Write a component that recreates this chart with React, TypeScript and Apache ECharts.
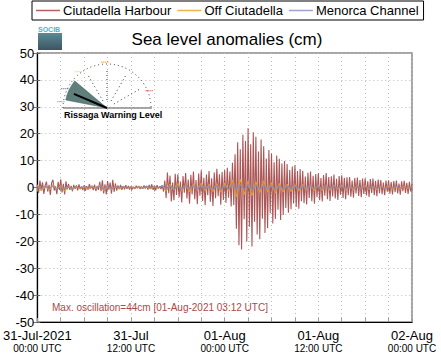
import React, { useEffect, useRef } from "react";
import * as echarts from "echarts";

// Hours since 31-Jul-2021 00:00 UTC
const seriesNames = ["Ciutadella Harbour", "Off Ciutadella", "Menorca Channel"];
const xTickLabels = ["31-Jul-2021", "31-Jul", "01-Aug", "01-Aug", "02-Aug"];
const xTickSub = ["00:00 UTC", "12:00 UTC", "00:00 UTC", "12:00 UTC", "00:00 UTC"];
const yTicks = [-50, -40, -30, -20, -10, 0, 10, 20, 30, 40, 50];

// Ciutadella Harbour, one value every 10 minutes (cm)
const harbourStepH = 1 / 6;
const harbour = [
  1.2, -2.0, 2.6, -0.8, 1.9, -2.4, 0.6, 2.2, -1.5, 1.0, -2.8, 1.7,
  2.9, -1.1, 0.4, -2.5, 2.1, -0.9, 3.0, -1.8, 1.4, -2.6, 2.3, -0.7,
  1.3, -0.9, 0.6, -1.4, 1.0, -0.5, 0.8, -1.1, 1.2, -0.6, 0.4, -1.0,
  0.9, -1.2, 0.5, -0.8, 1.3, -0.4, 0.7, -1.0, 1.1, -1.3, 0.6, -0.9,
  2.1, -1.4, 2.7, -2.2, 1.2, -2.6, 2.4, -0.8, 1.8, -2.3, 2.9, -1.6,
  1.5, -1.2, 0.8, -0.6, 1.0, -0.9, 0.5, -0.7, 0.9, -0.4, 0.6, -0.8,
  0.5, -0.7, 0.3, -0.5, 0.7, -0.3, 0.6, -0.6, 0.4, -0.5, 0.8, -0.4,
  0.6, -0.8, 1.0, -0.5, 1.2, -0.9, 0.7, -1.1, 0.9, -0.4, 0.5, -0.6,
  0.8, -1.5, 2.6, -3.9, 5.6, -2.1, 4.4, -5.2, 1.8, -4.7, 5.1, -2.8,
  4.9, -3.6, 2.2, -5.6, 4.3, -1.9, 5.4, -4.1, 3.0, -6.0, 4.7, -2.6,
  5.9, -4.4, 2.8, -6.2, 5.2, -3.1, 6.4, -5.0, 3.6, -6.6, 4.8, -2.9,
  6.1, -5.3, 3.4, -6.9, 5.6, -4.0, 7.0, -3.2, 4.9, -6.4, 5.8, -4.6,
  6.5, -5.7, 7.3, -3.8, 5.9, -7.1, 9.2, -6.5, 12.4, -15.3, 16.8, -21.5,
  14.2, -23.0, 19.6, -11.8, 17.3, -20.1, 22.0, -14.6, 16.1, -21.9, 20.5, -12.7,
  18.9, -17.5, 13.4, -19.2, 17.8, -11.6, 15.3, -16.9, 10.8, -15.1, 13.9, -9.6,
  12.6, -13.4, 9.4, -11.7, 11.9, -8.3, 10.7, -12.1, 8.9, -10.2, 9.8, -7.6,
  8.7, -9.4, 6.5, -8.1, 7.8, -5.9, 8.3, -7.2, 6.1, -7.9, 6.9, -5.1,
  6.2, -5.8, 4.1, -6.3, 5.5, -3.9, 5.9, -5.1, 4.4, -6.0, 5.0, -3.6,
  5.3, -4.7, 3.5, -5.2, 4.6, -3.1, 5.4, -4.4, 3.9, -5.0, 4.2, -3.3,
  4.8, -4.1, 3.2, -4.6, 4.3, -2.7, 4.5, -3.9, 3.6, -4.4, 3.8, -2.9,
  3.9, -3.4, 2.6, -3.8, 3.5, -2.2, 3.7, -3.1, 2.8, -3.6, 3.3, -2.4,
  3.4, -3.0, 2.3, -3.5, 3.1, -2.0, 3.3, -2.9, 2.5, -3.2, 3.0, -2.1,
  2.8, -2.5, 1.8, -2.9, 2.6, -1.6, 2.7, -2.3, 2.0, -2.6, 2.4, -1.7,
  2.6, -2.2, 1.5, -2.7, 2.3, -1.4, 2.5, -2.0, 1.7, -2.4, 2.1, -1.5,
  1.2,
];

// Off Ciutadella, one value every 30 minutes (cm)
const offStepH = 0.5;
const offCiutadella = [
  0.8, -1.2, 0.5, -0.9, 1.1, -0.6, 0.7, -1.3,
  0.3, -0.6, 0.4, -0.5, 0.2, -0.7, 0.5, -0.4,
  0.9, -1.1, 0.6, -0.8, 0.4, -0.5, 0.3, -0.4,
  0.2, -0.3, 0.4, -0.2, 0.3, -0.5, 0.4, -0.3,
  0.8, -1.4, 1.2, -0.9, 1.5, -1.1, 0.9, -1.6,
  1.3, -1.0, 1.7, -1.2, 1.1, -1.5, 1.4, -1.8,
  1.6, -1.3, 2.8, -3.5, 3.1, -2.6, 2.4, -3.0,
  2.2, -1.9, 2.5, -1.6, 1.8, -2.1, 1.5, -1.7,
  1.2, -1.5, 1.0, -1.3, 1.1, -0.9, 0.8, -1.2,
  0.9, -1.1, 0.7, -1.0, 0.8, -0.6, 0.9, -1.0,
  0.6, -0.9, 0.7, -0.5, 0.8, -0.7, 0.5, -0.8,
  0.6, -0.5, 0.7, -0.6, 0.4, -0.7, 0.5, -0.4,
  0.3,
];

// Menorca Channel, one value every 30 minutes (cm)
const channelStepH = 0.5;
const menorcaChannel = [
  0.4, -0.5, 0.6, -0.3, 0.5, -0.6, 0.3, -0.4,
  0.2, -0.4, 0.3, -0.3, 0.4, -0.2, 0.3, -0.3,
  0.5, -0.4, 0.6, -0.5, 0.3, -0.2, 0.4, -0.3,
  0.3, -0.2, 0.2, -0.3, 0.4, -0.2, 0.3, -0.2,
  0.6, -0.5, 0.7, -0.8, 0.5, -0.6, 0.8, -0.5,
  0.7, -0.6, 0.9, -0.7, 0.6, -0.8, 0.7, -0.9,
  0.8, -0.7, 1.2, -1.0, 1.1, -0.9, 1.3, -1.1,
  0.9, -0.8, 1.0, -0.7, 0.8, -0.9, 0.7, -0.6,
  0.6, -0.5, 0.7, -0.6, 0.5, -0.4, 0.6, -0.5,
  0.5, -0.4, 0.4, -0.5, 0.6, -0.3, 0.4, -0.5,
  0.4, -0.3, 0.5, -0.4, 0.3, -0.4, 0.4, -0.3,
  0.3, -0.4, 0.3, -0.2, 0.4, -0.3, 0.2, -0.3,
  0.2,
];

const FONT = "Liberation Sans, Arial, Helvetica, sans-serif";

function toPairs(values: number[], step: number) {
  return values.map((v, i) => [i * step, v]);
}

export default function App() {
  const ref = useRef<HTMLDivElement>(null);

  useEffect(() => {
    if (!ref.current) return;
    const chart = echarts.init(ref.current, undefined, { renderer: "svg" });
    const deg = Math.PI / 180;
    const gcx = 107;
    const gcy = 108;
    const radial = [30, 60, 90, 120, 150].map((a) => ({
      type: "line",
      shape: {
        x1: gcx + 8 * Math.cos(a * deg),
        y1: gcy - 8 * Math.sin(a * deg),
        x2: gcx + 40 * Math.cos(a * deg),
        y2: gcy - 40 * Math.sin(a * deg),
      },
      style: { stroke: "#333", lineWidth: 1, lineDash: [1, 3] },
      silent: true,
    }));
    const marks = [
      { a: 172, c: "#9aa04a" },
      { a: 155, c: "#5f7f7d" },
      { a: 128, c: "#e8d020" },
      { a: 92, c: "#f08a10" },
      { a: 22, c: "#e02020" },
    ].map((m) => ({
      type: "line",
      shape: {
        x1: gcx + 46 * Math.cos(m.a * deg) - 4,
        y1: gcy - 46 * Math.sin(m.a * deg),
        x2: gcx + 46 * Math.cos(m.a * deg) + 4,
        y2: gcy - 46 * Math.sin(m.a * deg),
      },
      style: { stroke: m.c, lineWidth: 1.2, lineDash: [1, 1] },
      silent: true,
    }));

    chart.setOption({
      animation: false,
      backgroundColor: "#fff",
      textStyle: { fontFamily: FONT },
      title: {
        text: "Sea level anomalies (cm)",
        left: 222,
        textAlign: "center",
        top: 26,
        textStyle: { fontSize: 17, fontWeight: "normal", color: "#000", fontFamily: FONT },
      },
      legend: {
        left: 32,
        top: 1,
        icon: "rect",
        itemWidth: 24,
        itemHeight: 1.5,
        itemGap: 6,
        padding: [3, 5, 3, 4],
        borderColor: "#000",
        borderWidth: 1,
        backgroundColor: "#fff",
        data: seriesNames,
        textStyle: { fontSize: 13, color: "#000", fontFamily: FONT, padding: [0, 0, 0, -2] },
      },
      grid: {
        left: 34,
        right: 29,
        top: 53,
        bottom: 37,
        show: true,
        borderColor: "#888",
        borderWidth: 1.5,
        backgroundColor: "transparent",
      },
      xAxis: [
        {
          type: "value",
          min: 0,
          max: 48,
          interval: 3,
          axisLine: { show: true, onZero: false, lineStyle: { color: "#000", width: 1.2 } },
          axisTick: { show: true, inside: true, length: 4, lineStyle: { color: "#999" } },
          splitLine: { show: true, lineStyle: { color: "#bbb", type: [1, 3], width: 1 } },
          axisLabel: {
            show: true,
            margin: 7,
            showMinLabel: true,
            showMaxLabel: true,
            hideOverlap: false,
            formatter: (v: number) => {
              if (v % 12 !== 0) return "";
              const i = v / 12;
              return `{a|${xTickLabels[i]}}\n{b|${xTickSub[i]}}`;
            },
            rich: {
              a: { fontSize: 13, color: "#000", fontFamily: FONT, lineHeight: 13 },
              b: { fontSize: 10, color: "#000", fontFamily: FONT, lineHeight: 12 },
            },
          },
        },
        {
          type: "value",
          position: "top",
          min: 0,
          max: 48,
          interval: 3,
          axisLine: { show: false },
          axisTick: { show: true, inside: true, length: 4, lineStyle: { color: "#999" } },
          splitLine: { show: false },
          axisLabel: { show: false },
        },
      ],
      yAxis: [
        {
          type: "value",
          min: yTicks[0],
          max: yTicks[yTicks.length - 1],
          interval: 10,
          axisLine: { show: true, onZero: false, lineStyle: { color: "#000", width: 1.2 } },
          axisTick: { show: true, inside: true, length: 3, lineStyle: { color: "#666" } },
          splitLine: { show: true, lineStyle: { color: "#bbb", type: [1, 3], width: 1 } },
          axisLabel: { fontSize: 13, lineHeight: 11, color: "#000", margin: 3, fontFamily: FONT },
        },
        {
          type: "value",
          position: "right",
          min: yTicks[0],
          max: yTicks[yTicks.length - 1],
          interval: 10,
          axisLine: { show: false },
          axisTick: { show: true, inside: true, length: 4, lineStyle: { color: "#777" } },
          splitLine: { show: false },
          axisLabel: { show: false },
        },
      ],
      series: [
        {
          name: seriesNames[0],
          type: "line",
          data: toPairs(harbour, harbourStepH),
          showSymbol: false,
          color: "#b56060",
          lineStyle: { color: "#9e3a3a", width: 1.1, opacity: 0.85 },
          z: 2,
        },
        {
          name: seriesNames[1],
          type: "line",
          data: toPairs(offCiutadella, offStepH),
          showSymbol: false,
          color: "#f0b050",
          lineStyle: { color: "#e59a25", width: 1.1 },
          z: 3,
        },
        {
          name: seriesNames[2],
          type: "line",
          data: toPairs(menorcaChannel, channelStepH),
          showSymbol: false,
          color: "#9da3cc",
          lineStyle: { color: "#8a8db5", width: 1.2 },
          z: 4,
        },
      ],
      graphic: [
        {
          type: "text",
          left: 52,
          top: 302,
          style: {
            text: "Max. oscillation=44cm [01-Aug-2021 03:12 UTC]",
            fill: "#a84a4a",
            fontSize: 10,
            fontFamily: FONT,
          },
          z: 10,
        },
        // SOCIB logo
        {
          type: "text",
          x: 38,
          y: 26,
          style: { text: "SOCIB", fill: "#4ab4cc", fontSize: 7, fontWeight: "bold", fontFamily: FONT },
          z: 10,
        },
        {
          type: "rect",
          shape: { x: 38, y: 33, width: 24, height: 17 },
          style: {
            fill: new echarts.graphic.LinearGradient(0, 0, 0, 1, [
              { offset: 0, color: "#5a8a96" },
              { offset: 1, color: "#3c5560" },
            ]),
          },
          z: 10,
        },
        // gauge
        {
          type: "arc",
          shape: { cx: gcx, cy: gcy, r: 44, startAngle: Math.PI, endAngle: 2 * Math.PI },
          style: { stroke: "#333", lineWidth: 1, lineDash: [1, 3], fill: "none" },
          z: 10,
        },
        ...radial.map((r) => ({ ...r, z: 10 })),
        ...marks.map((m) => ({ ...m, z: 10 })),
        {
          type: "sector",
          shape: { cx: gcx, cy: gcy, r0: 0, r: 42, startAngle: -169 * deg, endAngle: -140 * deg },
          style: { fill: "#5f7f7d", stroke: "#3e5a58", lineWidth: 0.5 },
          z: 10,
        },
        {
          type: "line",
          shape: { x1: gcx, y1: gcy, x2: gcx + 36 * Math.cos(157 * deg), y2: gcy - 36 * Math.sin(157 * deg) },
          style: { stroke: "#000", lineWidth: 2 },
          z: 11,
        },
        {
          type: "line",
          shape: { x1: 63, y1: gcy, x2: 152, y2: gcy },
          style: { stroke: "#555", lineWidth: 1 },
          z: 10,
        },
        {
          type: "text",
          x: 64,
          y: 110,
          style: { text: "Rissaga Warning Level", fill: "#000", fontSize: 9, fontWeight: "bold", fontFamily: FONT },
          z: 10,
        },
      ],
    });
    return () => chart.dispose();
  }, []);

  return <div ref={ref} style={{ width: 441, height: 359, position: "absolute", left: 0, top: 0 }} />;
}
